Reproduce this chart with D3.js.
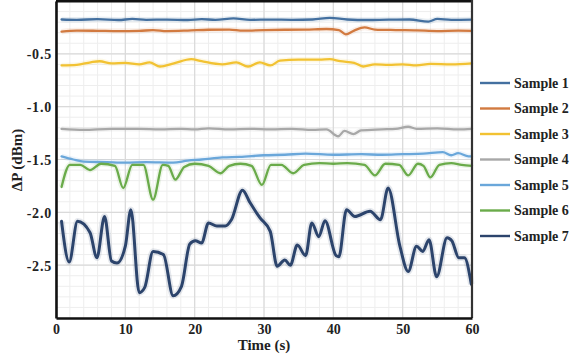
<!DOCTYPE html>
<html><head><meta charset="utf-8">
<script src="https://cdn.jsdelivr.net/npm/d3@7"></script>
<style>html,body{margin:0;padding:0;background:#fff;}svg{display:block;}
.lbl{font-family:"Liberation Serif","Times New Roman",Times,serif;font-weight:bold;fill:#222;}
</style>
</head><body>
<svg id="chart" width="575" height="354"></svg>
<script>
const seriesNames = ["Sample 1","Sample 2","Sample 3","Sample 4","Sample 5","Sample 6","Sample 7"];
const seriesColors = ["#4470a0","#d27a40","#f2c232","#a8a8a8","#6aa7da","#6aab4a","#2c446c"];
const xTicks = [0,10,20,30,40,50,60];
const yTicks = [-0.5,-1.0,-1.5,-2.0,-2.5];

const sample1 = [[0.8,-0.175],[3,-0.178],[6,-0.172],[9,-0.18],[11,-0.17],[13,-0.178],[16,-0.176],[19,-0.18],[21,-0.172],[23,-0.178],[25.6,-0.165],[28,-0.178],[31,-0.176],[34,-0.178],[37,-0.175],[39.5,-0.16],[42,-0.175],[45,-0.18],[48,-0.176],[51,-0.175],[53.7,-0.195],[55,-0.17],[57,-0.178],[60,-0.176]];
const sample2 = [[0.8,-0.29],[3,-0.28],[6,-0.282],[9,-0.285],[12,-0.283],[14,-0.275],[16,-0.285],[19,-0.28],[22,-0.272],[25,-0.27],[27,-0.28],[30,-0.275],[33,-0.272],[36,-0.27],[39,-0.265],[40.8,-0.275],[41.8,-0.315],[43,-0.28],[44.5,-0.25],[46,-0.27],[49,-0.275],[52,-0.278],[55,-0.285],[58,-0.28],[60,-0.282]];
const sample3 = [[0.8,-0.61],[3,-0.605],[5,-0.58],[6.3,-0.57],[8,-0.59],[10,-0.585],[12,-0.6],[13.5,-0.58],[15,-0.62],[17,-0.59],[19.5,-0.55],[21,-0.57],[24,-0.6],[26,-0.58],[27.7,-0.62],[29.4,-0.58],[30.9,-0.61],[32.3,-0.565],[35,-0.555],[38,-0.555],[39.5,-0.55],[41,-0.57],[43,-0.585],[44.3,-0.62],[46,-0.6],[48,-0.605],[50,-0.6],[52,-0.61],[54,-0.595],[57,-0.6],[60,-0.59]];
const sample4 = [[0.8,-1.21],[4,-1.22],[8,-1.21],[12,-1.21],[15,-1.215],[18,-1.21],[20,-1.215],[22,-1.205],[25,-1.215],[28,-1.21],[31,-1.215],[34,-1.21],[37,-1.22],[39,-1.215],[40.7,-1.28],[41.6,-1.23],[42.9,-1.26],[44,-1.225],[47,-1.215],[49,-1.21],[50.8,-1.19],[52,-1.21],[55,-1.205],[58,-1.215],[60,-1.21]];
const sample5 = [[0.8,-1.47],[2.5,-1.5],[4,-1.52],[7.3,-1.525],[10,-1.53],[13,-1.525],[16.9,-1.53],[19,-1.51],[21,-1.5],[24,-1.48],[26.5,-1.475],[30,-1.46],[33,-1.455],[36,-1.445],[40,-1.455],[44,-1.45],[47,-1.455],[50,-1.45],[53,-1.445],[55.8,-1.43],[57,-1.46],[58,-1.44],[59.5,-1.47],[60,-1.47]];
const sample6 = [[0.8,-1.76],[2,-1.55],[3.5,-1.55],[4.9,-1.6],[6.5,-1.54],[8.5,-1.56],[9.7,-1.77],[11,-1.55],[12.6,-1.55],[14,-1.88],[15.4,-1.55],[16.2,-1.56],[17.2,-1.69],[18.5,-1.57],[20,-1.54],[22,-1.56],[23.7,-1.63],[25,-1.56],[26.6,-1.54],[28.2,-1.56],[29.7,-1.74],[31,-1.55],[32.5,-1.55],[34.2,-1.63],[35.8,-1.55],[38,-1.535],[40,-1.54],[42,-1.535],[44.5,-1.55],[46,-1.65],[47.5,-1.54],[49.5,-1.55],[50.8,-1.65],[52.2,-1.54],[53,-1.56],[54,-1.67],[55.3,-1.55],[57,-1.535],[58.5,-1.55],[60,-1.56]];
const sample7 = [[0.8,-2.085],[1.9,-2.47],[3.1,-2.085],[4.9,-2.19],[5.9,-2.43],[7.0,-2.04],[8.0,-2.46],[8.8,-2.48],[10,-2.32],[10.8,-1.975],[12,-2.76],[12.8,-2.71],[14,-2.37],[15.5,-2.40],[16.9,-2.79],[18.1,-2.70],[19.3,-2.30],[20.1,-2.27],[21,-2.29],[22,-2.10],[23.2,-2.13],[24.4,-2.13],[25.3,-2.07],[26.9,-1.79],[28,-1.91],[29.4,-2.05],[30.9,-2.18],[31.9,-2.51],[33,-2.45],[33.8,-2.50],[34.8,-2.31],[36,-2.41],[36.9,-2.10],[37.9,-2.23],[38.8,-2.08],[40.4,-2.41],[40.8,-2.42],[41.9,-1.975],[43.1,-2.04],[45.3,-1.99],[46.8,-2.07],[47.9,-1.77],[49.6,-2.32],[50.8,-2.56],[52,-2.32],[52.9,-2.37],[53.8,-2.26],[54.9,-2.61],[56.4,-2.24],[57.1,-2.27],[58.1,-2.43],[58.9,-2.43],[59.9,-2.68]];
const allSeries = [sample1,sample2,sample3,sample4,sample5,sample6,sample7];

const svg = d3.select("#chart");
const L = 56, R = 472, T = 1, B = 318;
const x = d3.scaleLinear().domain([0,60]).range([L,R]);
const y = d3.scaleLinear().domain([-3,0]).range([B,T]);

// minor grid
const g = svg.append("g");
g.selectAll(".vmin").data(d3.range(0,61,2)).join("line")
  .attr("x1",d=>x(d)).attr("x2",d=>x(d)).attr("y1",T).attr("y2",B)
  .attr("stroke","#eeeeee").attr("stroke-width",1);
g.selectAll(".hmin").data(d3.range(0,31).map(i=>-i/10)).join("line")
  .attr("x1",L).attr("x2",R).attr("y1",d=>y(d)).attr("y2",d=>y(d))
  .attr("stroke","#eeeeee").attr("stroke-width",1);
// major grid
g.selectAll(".vmaj").data(xTicks).join("line")
  .attr("x1",d=>x(d)).attr("x2",d=>x(d)).attr("y1",T).attr("y2",B)
  .attr("stroke","#dadada").attr("stroke-width",1.2);
g.selectAll(".hmaj").data(yTicks).join("line")
  .attr("x1",L).attr("x2",R).attr("y1",d=>y(d)).attr("y2",d=>y(d))
  .attr("stroke","#dadada").attr("stroke-width",1.2);

// lines
const line = d3.line().x(d=>x(d[0])).y(d=>y(d[1])).curve(d3.curveMonotoneX);
allSeries.forEach((s,i)=>{
  svg.append("path").datum(s).attr("d",line).attr("fill","none")
    .attr("stroke",seriesColors[i]).attr("stroke-opacity",0.12)
    .attr("stroke-width", i===6?6.5:5.5).attr("stroke-linejoin","round");
});
allSeries.forEach((s,i)=>{
  svg.append("path").datum(s).attr("d",line).attr("fill","none")
    .attr("stroke",seriesColors[i]).attr("stroke-width", i===6?3:2.3)
    .attr("stroke-linejoin","round").attr("stroke-linecap","round");
});

// frame
svg.append("line").attr("x1",L).attr("x2",R).attr("y1",T).attr("y2",T).attr("stroke","#111").attr("stroke-width",3);
svg.append("line").attr("x1",R).attr("x2",R).attr("y1",0).attr("y2",B).attr("stroke","#333").attr("stroke-width",2.2);

// axes
const xAxis = svg.append("g").attr("transform",`translate(0,${B})`)
  .call(d3.axisBottom(x).tickValues(xTicks).tickSize(0).tickPadding(6).tickFormat(d3.format("d")));
const yAxis = svg.append("g").attr("transform",`translate(${L},0)`)
  .call(d3.axisLeft(y).tickValues(yTicks).tickSize(0).tickPadding(4).tickFormat(d=>d.toFixed(1)));
[xAxis,yAxis].forEach(a=>{
  a.attr("font-family",null).attr("font-size",null);
  a.select(".domain").attr("stroke","#111").attr("stroke-width",2.6);
  a.selectAll("text").attr("class","lbl").style("font-size","14px");
});
yAxis.selectAll("text").attr("dy","0.35em").style("letter-spacing","0.8px");

svg.append("text").attr("class","lbl").attr("x",264).attr("y",350).attr("text-anchor","middle")
  .style("font-size","15px").text("Time (s)");
svg.append("text").attr("class","lbl").attr("transform","translate(22,160) rotate(-90)").attr("text-anchor","middle")
  .style("font-size","15px").text("ΔP (dBm)");

// legend
const lg = svg.append("g");
seriesNames.forEach((n,i)=>{
  const yy = 83 + i*25.5;
  lg.append("line").attr("x1",480).attr("x2",510).attr("y1",yy).attr("y2",yy)
    .attr("stroke",seriesColors[i]).attr("stroke-width",2.4);
  lg.append("text").attr("class","lbl").attr("x",514).attr("y",yy+4.5)
    .style("font-size","14px").text(n);
});
</script>
</body></html>
